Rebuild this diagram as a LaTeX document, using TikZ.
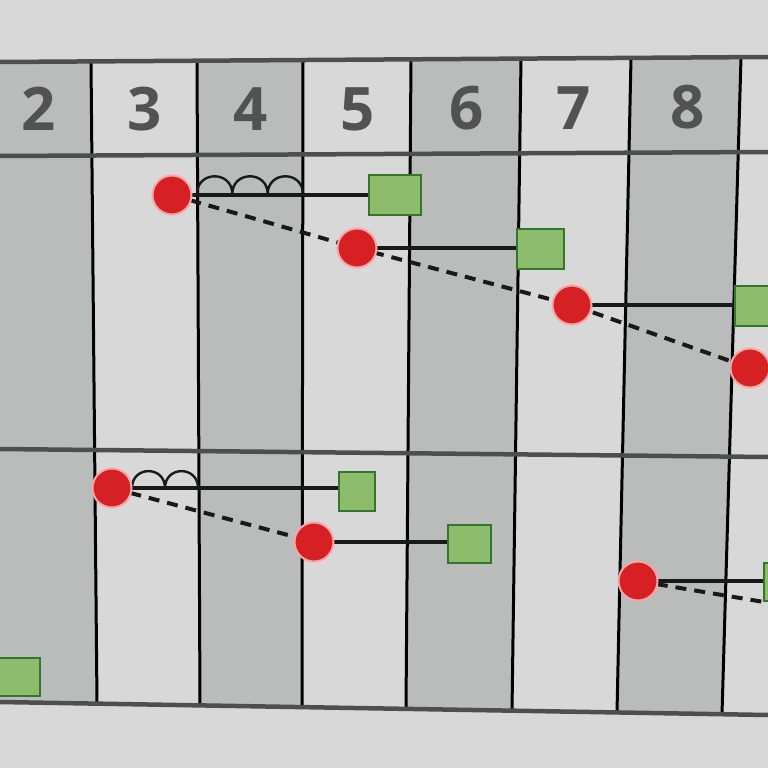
\documentclass[tikz,border=0pt]{standalone}
\usepackage{fontspec}
\setmainfont{Open Sans}
\pgfdeclarelayer{grid}
\pgfdeclarelayer{links}
\pgfsetlayers{grid,links,main}
\definecolor{paper}{RGB}{216,216,216}
\definecolor{cellgray}{RGB}{186,187,187}
\definecolor{rulegray}{RGB}{78,78,78}
\definecolor{digit}{RGB}{82,82,82}
\definecolor{dotred}{RGB}{214,32,36}
\definecolor{dotrim}{RGB}{244,168,166}
\definecolor{boxgreen}{RGB}{140,188,108}
\definecolor{boxedge}{RGB}{52,118,44}
\definecolor{ink}{RGB}{25,25,25}
\tikzset{
  reddot/.style={circle, fill=dotred, draw=dotrim, line width=2pt, minimum size=39pt, inner sep=0pt},
  greenbox/.style={rectangle, fill=boxgreen, draw=boxedge, line width=2pt, inner sep=0pt},
  vrule/.style={draw=black, line width=3pt},
  hrule/.style={draw=rulegray, line width=4.5pt},
  solidlink/.style={draw=ink, line width=3.5pt},
  dashlink/.style={draw=ink, line width=4pt, dash pattern=on 11pt off 8pt},
  coil/.style={draw=ink, line width=2.4pt},
  numlabel/.style={font=\bfseries\fontsize{60}{60}\selectfont, text=digit, inner sep=0pt}
}
\begin{document}
\begin{tikzpicture}[x=1pt,y=-1pt]
\useasboundingbox (0,0) rectangle (768,768);
\clip (0,0) rectangle (768,768);
\begin{pgfonlayer}{grid}
\fill[paper] (0,0) rectangle (768,768);
% shaded columns
\fill[cellgray] (0,62) -- (91,61.4) -- (97,703.6) -- (0,702) -- cycle;
\fill[cellgray] (197,60.7) -- (303,60.0) -- (302,707.1) -- (200,705.4) -- cycle;
\fill[cellgray] (411,59.3) -- (521,58.6) -- (512,710.7) -- (406,708.9) -- cycle;
\fill[cellgray] (631,57.9) -- (741,57.2) -- (722,714.2) -- (617,712.4) -- cycle;
% vertical rules
\draw[vrule] (91,61.4) -- (97,703.6);
\draw[vrule] (197,60.7) -- (200,705.4);
\draw[vrule] (303,60.0) -- (302,707.1);
\draw[vrule] (411,59.3) -- (406,708.9);
\draw[vrule] (521,58.6) -- (512,710.7);
\draw[vrule] (631,57.9) -- (617,712.4);
\draw[vrule] (741,57.2) -- (722,714.2);
% horizontal rules
\draw[hrule] (0,62) -- (768,57);
\draw[hrule] (0,156) -- (768,152);
\draw[hrule] (0,449) -- (768,457);
\draw[hrule] (0,702) -- (768,715);
\end{pgfonlayer}
% header numbers
\node[numlabel] (n2) at (39,109) {2};
\node[numlabel] (n3) at (145,109) {3};
\node[numlabel] (n4) at (251,109) {4};
\node[numlabel] (n5) at (358,109) {5};
\node[numlabel] (n6) at (467,108) {6};
\node[numlabel] (n7) at (574,108) {7};
\node[numlabel] (n8) at (688,107) {8};
% upper band
\node[reddot] (r1) at (172,195) {};
\node[greenbox, minimum width=52pt, minimum height=40pt] (g1) at (395,195) {};
\node[reddot] (r2) at (357,248) {};
\node[greenbox, minimum width=47pt, minimum height=40pt] (g2) at (540.5,249) {};
\node[reddot] (r3) at (572,305) {};
\node[greenbox, minimum width=50pt, minimum height=40pt] (g3) at (760,306) {};
\node[reddot] (r4) at (750,368) {};
% lower band
\node[reddot] (r5) at (112,488) {};
\node[greenbox, minimum width=36pt, minimum height=39pt] (g4) at (357,491) {};
\node[reddot] (r6) at (314,542) {};
\node[greenbox, minimum width=43pt, minimum height=38pt] (g5) at (469.5,544) {};
\node[reddot] (r7) at (638,581) {};
\node[greenbox, minimum width=40pt, minimum height=38pt] (g6) at (784,582) {};
\node[greenbox, minimum width=42pt, minimum height=38pt] (g7) at (19,677) {};
\coordinate (d7) at (800,608);
\begin{pgfonlayer}{links}
\draw[solidlink] (r1.center) -- (r1.center -| g1.west);
\draw[solidlink] (r2.center) -- (r2.center -| g2.west);
\draw[solidlink] (r3.center) -- (r3.center -| g3.west);
\draw[solidlink] (r5.center) -- (r5.center -| g4.west);
\draw[solidlink] (r6.center) -- (r6.center -| g5.west);
\draw[solidlink] (r7.center) -- (r7.center -| g6.west);
\draw[dashlink] (r1.center) -- (r2.center) -- (r3.center) -- (r4.center);
\draw[dashlink] (r5.center) -- (r6.center);
\draw[dashlink] (r7.center) -- (d7);
% coils
\draw[coil] (197,194) .. controls (197,170.4) and (232.3,170.4) .. (232.3,194)
  .. controls (232.3,170.4) and (267.7,170.4) .. (267.7,194)
  .. controls (267.7,170.4) and (303,170.4) .. (303,194);
\draw[coil] (132,488) .. controls (132,465.5) and (165,465.5) .. (165,488)
  .. controls (165,465.5) and (198,465.5) .. (198,488);
\end{pgfonlayer}
\end{tikzpicture}
\end{document}
